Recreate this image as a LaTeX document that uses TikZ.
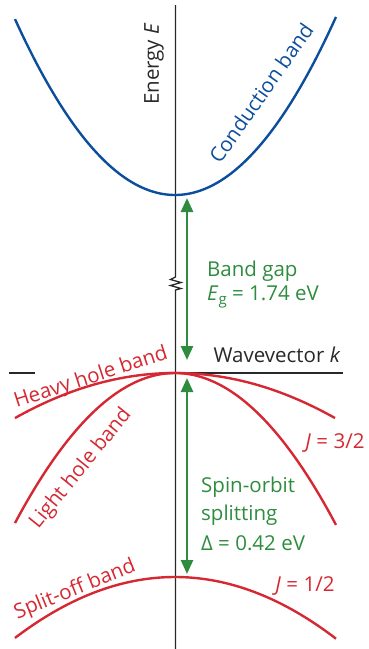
\documentclass[tikz,border=0pt]{standalone}
\usepackage{fontspec}
\setmainfont{Open Sans}
\usetikzlibrary{arrows.meta}
\definecolor{bandblue}{RGB}{12,78,156}
\definecolor{bandred}{RGB}{214,40,50}
\definecolor{gapgreen}{RGB}{46,140,62}
\definecolor{axisgray}{RGB}{40,40,40}
\tikzset{
  lbl/.style={inner sep=0pt, font=\fontsize{20.5}{24}\selectfont},
  axisline/.style={draw=axisgray, line width=1.3pt},
  bandline/.style={line width=2.4pt},
  gaparrow/.style={draw=gapgreen, line width=2.6pt, {Triangle[length=14pt,width=12pt]}-{Triangle[length=14pt,width=12pt]}, shorten <=0pt, shorten >=0pt}
}
\newcommand{\subg}{\raisebox{-0.3ex}{\fontsize{15}{15}\selectfont g}}
\begin{document}
\begin{tikzpicture}[x=1pt,y=-1pt]
\useasboundingbox (0,0) rectangle (369,649);
% axes
\coordinate (vtop) at (175.5,5);
\coordinate (zz1) at (175.5,277);
\coordinate (zz2) at (175.5,292);
\coordinate (vbot) at (175.5,649);
\draw[axisline] (vtop) -- (zz1) -- (170.5,279.5) -- (181,282.5) -- (170.5,285.5) -- (181,288.5) -- (175.5,290) -- (zz2) -- (vbot);
\coordinate (h1a) at (9,373);
\coordinate (h1b) at (35,373);
\coordinate (h2a) at (173,373);
\coordinate (h2b) at (343,373);
\draw[axisline] (h1a) -- (h1b);
\draw[axisline] (h2a) -- (h2b);
% bands
\draw[bandline, draw=bandblue] plot[domain=15:336, samples=80, smooth] (\x,{195-0.687*((\x-175)/10)^2});
\draw[bandline, draw=bandred] plot[domain=15:335, samples=60, smooth] (\x,{373+0.176*((\x-175)/10)^2});
\draw[bandline, draw=bandred] plot[domain=15:336, samples=80, smooth] (\x,{373+0.586*((\x-175)/10)^2});
\draw[bandline, draw=bandred] plot[domain=15:336, samples=60, smooth] (\x,{577+0.238*((\x-175)/10)^2});
% arrows
\coordinate (g1) at (187,198);
\coordinate (g2) at (187,360);
\coordinate (s1) at (187,378);
\coordinate (s2) at (187,574);
\draw[gaparrow] (g2) -- (g1);
\draw[gaparrow] (s1) -- (s2);
% labels
\node[lbl, text=axisgray, rotate=90] (energy) at (154,64) {Energy \textit{E}};
\node[lbl, text=bandblue, rotate=55] (cond) at (261,93) {Conduction band};
\node[lbl, text=gapgreen, anchor=west] (bg1) at (207,271) {Band gap};
\node[lbl, text=gapgreen, anchor=west] (bg2) at (207,297) {\textit{E}\subg{} = 1.74 eV};
\node[lbl, text=axisgray] (wave) at (277,355) {Wavevector \textit{k}};
\node[lbl, text=bandred, rotate=18] (heavy) at (91,378) {Heavy hole band};
\node[lbl, text=bandred, rotate=51] (light) at (81,469) {Light hole band};
\node[lbl, text=bandred] (j32) at (335,443) {\textit{J} = 3/2};
\node[lbl, text=gapgreen, anchor=west] (so1) at (201,487) {Spin-orbit};
\node[lbl, text=gapgreen, anchor=west] (so2) at (201,515) {splitting};
\node[lbl, text=gapgreen, anchor=west] (so3) at (201,543) {Δ = 0.42 eV};
\node[lbl, text=bandred, rotate=22] (split) at (75,590) {Split-off band};
\node[lbl, text=bandred] (j12) at (305,586) {\textit{J} = 1/2};
\end{tikzpicture}
\end{document}
